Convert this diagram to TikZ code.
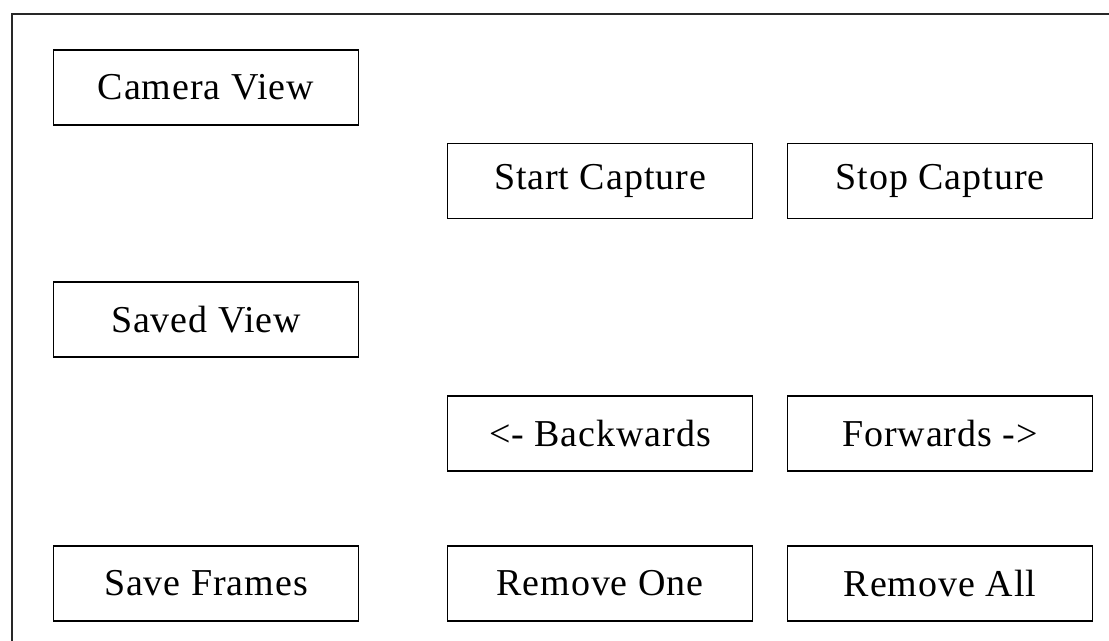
\documentclass[tikz,border=0pt]{standalone}
\usepackage{fontspec}
\setmainfont{Liberation Serif}[LetterSpace=2.5]

\tikzset{every picture/.style={line width=0.75pt}}
\tikzset{
	btn/.style={draw, rectangle, line width=1.2, minimum width=228.75pt, minimum height=56.25pt, inner sep=0pt,
		font=\fontsize{28.5}{34}\selectfont}}

\begin{document}
\begin{tikzpicture}[x=0.75pt,y=0.75pt,yscale=-1,xscale=1]
	\useasboundingbox (0,0) rectangle (1109,641);

	%Shape: Window frame (left and top edges only)
	\draw [line width=1.5, color={rgb, 255:red, 40; green, 40; blue, 40 }]   (11.5,641) -- (11.5,14.5) -- (1109,14.5) ;

	% Text Node
	\draw (206,87.5) node [btn] (camview)  {Camera View};
	% Text Node
	\draw (206,319.5) node [btn] (savedview)  {Saved View};
	% Text Node
	\draw (206,583.5) node [btn] (saveframes)  {Save Frames};
	% Text Node
	\draw (600,181) node [btn] (startcap)  {Start Capture};
	% Text Node
	\draw (940,181) node [btn] (stopcap)  {Stop Capture};
	% Text Node
	\draw (600,433.5) node [btn] (backwards)  {<- Backwards};
	% Text Node
	\draw (940,433.5) node [btn] (forwards)  {Forwards ->};
	% Text Node
	\draw (600,583.5) node [btn] (removeone)  {Remove One};
	% Text Node
	\draw (940,583.5) node [btn] (removeall)  {Remove All};

\end{tikzpicture}
\end{document}
